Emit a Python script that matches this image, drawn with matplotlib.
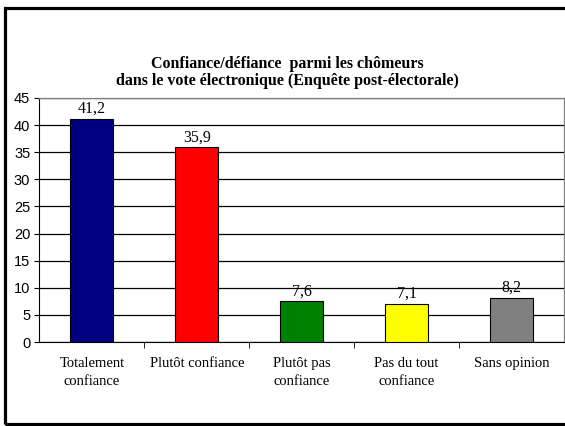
import matplotlib.pyplot as plt
from matplotlib.patches import Rectangle
from matplotlib.ticker import FixedLocator, MultipleLocator

categories = ["Totalement\nconfiance", "Plutôt confiance", "Plutôt pas\nconfiance",
              "Pas du tout\nconfiance", "Sans opinion"]
values = [41.2, 35.9, 7.6, 7.1, 8.2]
labels = ["41,2", "35,9", "7,6", "7,1", "8,2"]
colors = ["#000080", "#FF0000", "#008000", "#FFFF00", "#808080"]

fig = plt.figure(figsize=(5.65, 4.26), dpi=100)
ax = fig.add_axes([0.0699, 0.197, 0.9281, 0.573])

# outer frame of the chart
fig.patches.append(Rectangle((0.0088, 0.004), 1.2, 0.978, transform=fig.transFigure,
                             fill=False, edgecolor="black", linewidth=2.3))

x = range(len(values))
ax.bar(x, values, width=0.41, color=colors, edgecolor="black", linewidth=0.8, zorder=3)
for i, v in enumerate(values):
    ax.text(i, v + 0.3, labels[i], ha="center", va="bottom", fontsize=11.5,
            family="Liberation Serif", zorder=4)

ax.set_xlim(-0.5, 4.5)
ax.set_ylim(0, 45)
ax.yaxis.set_major_locator(MultipleLocator(5))
ax.yaxis.grid(True, color="black", linewidth=0.9, zorder=0)
ax.set_axisbelow(True)

ax.set_xticks(list(x))
ax.set_xticklabels(categories, family="Liberation Serif", fontsize=10.5, linespacing=1.45)
ax.tick_params(axis="x", length=0, pad=11)
ax.xaxis.set_minor_locator(FixedLocator([0.5, 1.5, 2.5, 3.5]))
ax.tick_params(axis="x", which="minor", length=4, direction="out")
ax.tick_params(axis="y", length=3.6, direction="out", labelsize=10.5, pad=3)
for lab in ax.get_yticklabels():
    lab.set_family("Liberation Sans")

for side in ["top", "right"]:
    ax.spines[side].set_color("#808080")
    ax.spines[side].set_linewidth(0.9)
ax.spines["left"].set_color("black")
ax.spines["bottom"].set_color("black")

fig.text(0.509, 0.830, "Confiance/défiance  parmi les chômeurs\ndans le vote électronique (Enquête post-électorale)",
         ha="center", va="center", fontsize=11.5, fontweight="bold",
         family="Liberation Serif", linespacing=1.05)

fig.savefig("out.png", dpi=100)
